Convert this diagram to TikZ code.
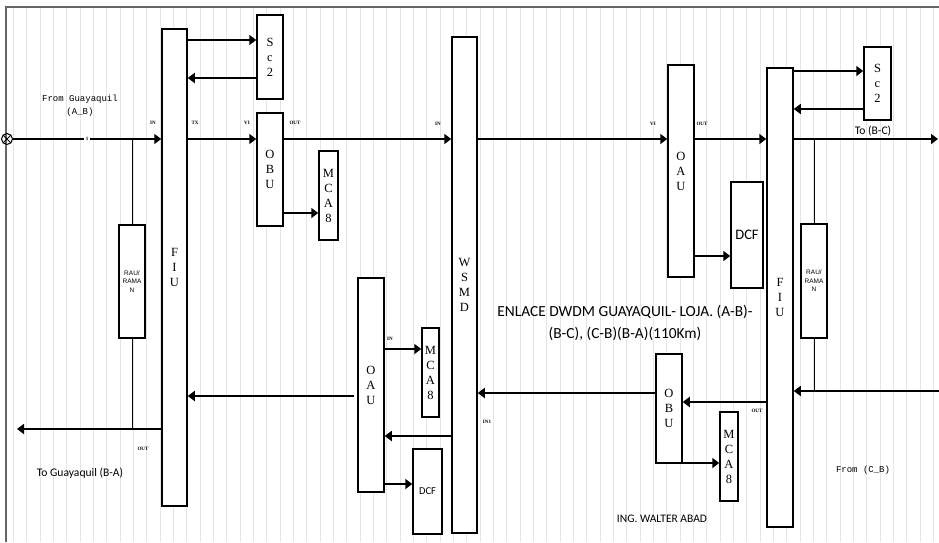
\documentclass[tikz,border=0pt]{standalone}
\usepackage{fontspec}
\setmainfont{Liberation Serif}
\setsansfont{Carlito}
\setmonofont{Liberation Mono}
\newfontfamily\rausans{Liberation Sans}
\usetikzlibrary{arrows.meta}

\begin{document}
\begin{tikzpicture}[x=1pt, y=-1pt,
    unit/.style={draw, line width=1.5pt, fill=white, inner sep=0pt, align=center,
                 font=\fontsize{12.5}{15}\selectfont},
    rau/.style={unit, font=\rausans\fontsize{6.5}{8.5}\selectfont},
    sig/.style={line width=1.8pt, -{Triangle[length=7pt,width=10pt]}},
    tap/.style={line width=0.8pt},
    port/.style={inner sep=0pt, font=\fontsize{5}{6}\selectfont\bfseries},
    lbl/.style={inner sep=0pt, align=center, font=\sffamily\fontsize{11.6}{13}\selectfont},
    mono/.style={inner sep=0pt, align=center, font=\ttfamily\fontsize{9}{13}\selectfont}]
    \useasboundingbox (0,0) rectangle (939,542);
    % background grid and frame
    \draw[gray!20, line width=0.4pt, step=13.33] (6,7) grid (939,542);
    \draw[gray!80!black, line width=1.4pt] (6,542) -- (6,7) -- (939,7);

    % rows of the signal lines
    \coordinate (rowA) at (0,139);
    \coordinate (rowB) at (0,391);
    \coordinate (rowOut) at (0,429);

    % units, side A-B
    \node[unit, minimum width=25, minimum height=477] (fiuA) at (174.5,267.5) {F\\I\\U};
    \node[unit, minimum width=26, minimum height=84] (scA) at (270,57) {S\\c\\2};
    \node[unit, minimum width=26, minimum height=113] (obuA) at (270,169.5) {O\\B\\U};
    \node[unit, minimum width=19, minimum height=89] (mcaA) at (328.5,195.5) {M\\C\\A\\8};
    \node[rau, minimum width=26, minimum height=113] (rauA) at (132,281.5) {RAU/\\RAMA\\N};
    \node[unit, minimum width=25, minimum height=496] (wsmd) at (464.5,285) {W\\S\\M\\D};
    \node[unit, minimum width=26, minimum height=214] (oauB) at (371,385) {O\\A\\U};
    \node[unit, minimum width=17, minimum height=89] (mcaB) at (430.5,372.5) {M\\C\\A\\8};
    \node[unit, minimum width=29, minimum height=85, font=\sffamily\fontsize{10.5}{12}\selectfont]
        (dcfB) at (427.5,491.5) {DCF};

    % units, side B-C
    \node[unit, minimum width=26, minimum height=212] (oauA) at (681,171) {O\\A\\U};
    \node[unit, minimum width=32, minimum height=106, font=\sffamily\fontsize{14.5}{16}\selectfont]
        (dcfA) at (747,235) {DCF};
    \node[unit, minimum width=26, minimum height=459] (fiuB) at (780,297.5) {F\\I\\U};
    \node[unit, minimum width=27, minimum height=73] (scB) at (877.5,83.5) {S\\c\\2};
    \node[rau, minimum width=26, minimum height=114] (rauB) at (814,281) {RAU/\\RAMA\\N};
    \node[unit, minimum width=26, minimum height=109] (obuB) at (669,408.5) {O\\B\\U};
    \node[unit, minimum width=18, minimum height=89] (mcaC) at (729,456.5) {M\\C\\A\\8};

    % line ends
    \node[draw, circle, line width=1pt, minimum size=11, inner sep=0pt,
          path picture={\draw[line width=1pt]
            (path picture bounding box.north west) -- (path picture bounding box.south east)
            (path picture bounding box.south west) -- (path picture bounding box.north east);}]
        (src) at (7,139) {};
    \coordinate (dstB) at (938,139);
    \coordinate (srcC) at (939,391);
    \coordinate (dstA) at (17,429);

    % direction A-B
    \draw[sig] (src.east) -- node[fill=white, inner sep=2pt, font=\fontsize{5}{6}\selectfont\bfseries]{1}
        (fiuA.west |- rowA);
    \draw[sig] (fiuA.east |- 0,40) -- (scA.west |- 0,40);
    \draw[sig] (scA.west |- 0,78) -- (fiuA.east |- 0,78);
    \draw[sig] (fiuA.east |- rowA) -- (obuA.west |- rowA);
    \draw[sig] (obuA.east |- rowA) -- (wsmd.west |- rowA);
    \draw[sig] (obuA.east |- 0,213) -- (mcaA.west |- 0,213);
    \draw[sig] (wsmd.east |- rowA) -- (oauA.west |- rowA);
    \draw[sig] (oauA.east |- rowA) -- (fiuB.west |- rowA);
    \draw[sig] (oauA.east |- 0,256) -- (dcfA.west |- 0,256);
    \draw[sig] (fiuB.east |- 0,71) -- (scB.west |- 0,71);
    \draw[sig] (scB.west |- 0,109) -- (fiuB.east |- 0,109);
    \draw[sig] (fiuB.east |- rowA) -- (dstB);
    \draw[tap] (rauA.north) -- (rauA.north |- rowA);
    \draw[tap] (rauB.north) -- (rauB.north |- rowA);

    % direction C-B-A
    \draw[sig] (srcC) -- (fiuB.east |- rowB);
    \draw[tap] (rauB.south) -- (rauB.south |- rowB);
    \draw[sig] (fiuB.west |- 0,402) -- (obuB.east |- 0,402);
    \draw[sig] (obuB.west |- 0,393) -- (wsmd.east |- 0,393);
    \draw[sig] (obuB.east |- 0,463) -- (mcaC.west |- 0,463);
    \draw[sig] (wsmd.west |- 0,436) -- (oauB.east |- 0,436);
    \draw[sig] (oauB.east |- 0,349) -- (mcaB.west |- 0,349);
    \draw[sig] (oauB.east |- 0,484) -- (dcfB.west |- 0,484);
    \draw[sig] ([xshift=-3pt]oauB.west |- 0,396) -- (fiuA.east |- 0,396);
    \draw[sig] (fiuA.west |- rowOut) -- (dstA);
    \draw[tap] (rauA.south) -- (rauA.south |- rowOut);

    % port labels
    \node[port] (pInA) at (153,123) {IN};
    \node[port] (pTxA) at (195,123) {TX};
    \node[port] (pViA) at (247,123) {VI};
    \node[port] (pOutA) at (295,123) {OUT};
    \node[port] (pInW) at (438,124) {IN};
    \node[port] (pViB) at (653,124) {VI};
    \node[port] (pOutB) at (702,124) {OUT};
    \node[port] (pInC) at (390,339) {IN};
    \node[port] (pInW2) at (487,422) {IN1};
    \node[port] (pOutC) at (757,411) {OUT};
    \node[port] (pOutD) at (143,449) {OUT};

    % texts
    \node[mono] (fromA) at (80,106) {From Guayaquil\\(A\_B)};
    \node[lbl] (toA) at (80,473) {To Guayaquil (B-A)};
    \node[lbl] (toC) at (873,131) {To (B-C)};
    \node[mono] (fromC) at (863,470) {From (C\_B)};
    \node[lbl, font=\sffamily\fontsize{15.4}{22}\selectfont] (title) at (625,323)
        {ENLACE DWDM GUAYAQUIL- LOJA. (A-B)-\\(B-C), (C-B)(B-A)(110Km)};
    \node[lbl, font=\sffamily\fontsize{11.5}{12}\selectfont] (author) at (662,519) {ING. WALTER ABAD};
\end{tikzpicture}
\end{document}
